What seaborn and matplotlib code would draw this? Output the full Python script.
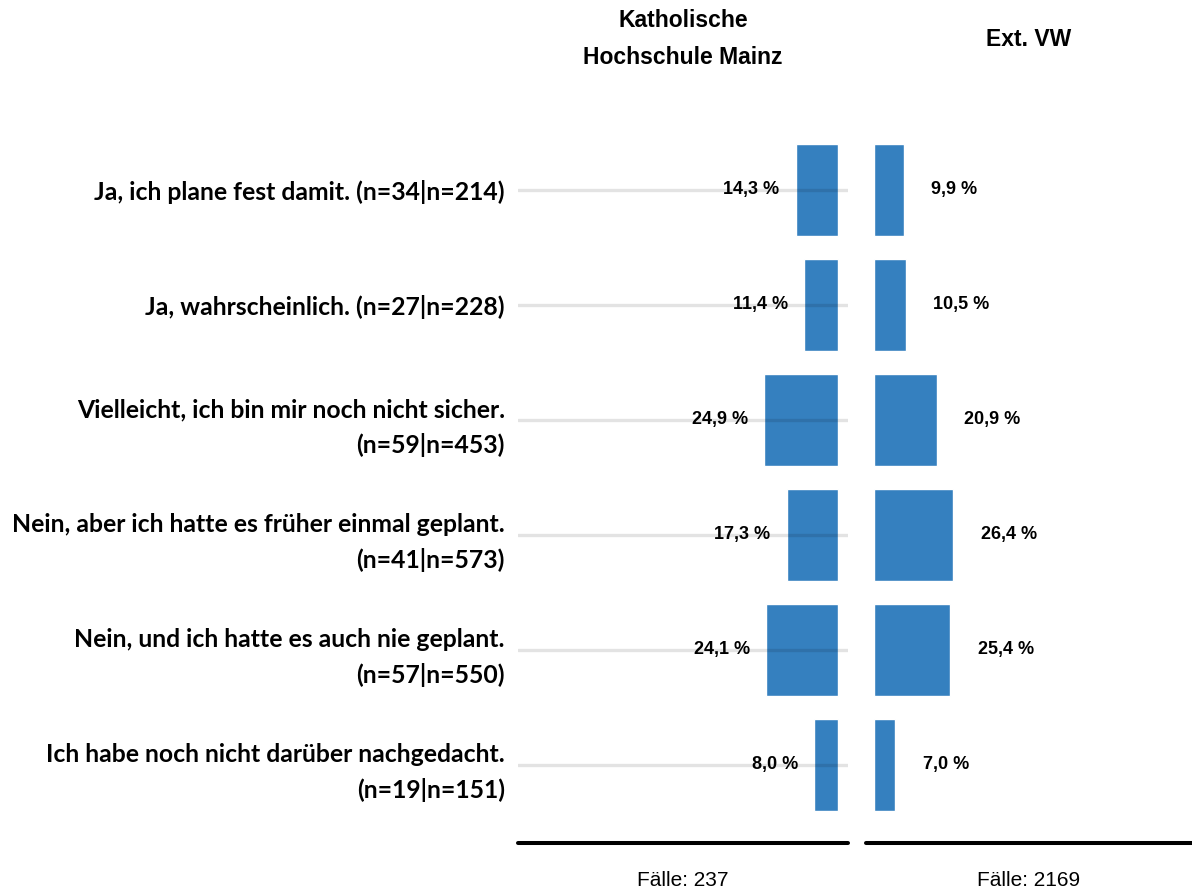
import matplotlib
matplotlib.use("Agg")
import matplotlib.pyplot as plt
import seaborn as sns
import pandas as pd

# ── Daten ──────────────────────────────────────────────────
categories = [
    "Ja, ich plane fest damit. (n=34|n=214)",
    "Ja, wahrscheinlich. (n=27|n=228)",
    "Vielleicht, ich bin mir noch nicht sicher.\n(n=59|n=453)",
    "Nein, aber ich hatte es früher einmal geplant.\n(n=41|n=573)",
    "Nein, und ich hatte es auch nie geplant.\n(n=57|n=550)",
    "Ich habe noch nicht darüber nachgedacht.\n(n=19|n=151)",
]
khm_values = [14.3, 11.4, 24.9, 17.3, 24.1, 8.0]
vw_values = [9.9, 10.5, 20.9, 26.4, 25.4, 7.0]
group_titles = ["Katholische\nHochschule Mainz", "Ext. VW"]
case_counts = [237, 2169]

BAR_COLOR = "#3580bf"

sns.set_theme(style="white")
plt.rcParams["font.family"] = ["Liberation Sans", "DejaVu Sans"]
plt.rcParams["text.color"] = "black"
plt.rcParams["ytick.color"] = "black"
plt.rcParams["xtick.color"] = "black"

fig = plt.figure(figsize=(11.92, 8.92), dpi=100)
W, H = 1192, 892
bottom = (H - 843) / H
height = (843 - 121) / H
ax_l = fig.add_axes([518 / W, bottom, 330 / W, height])
ax_r = fig.add_axes([866 / W, bottom, 326 / W, height])

df_l = pd.DataFrame({"cat": categories, "val": khm_values})
df_r = pd.DataFrame({"cat": categories, "val": vw_values})

sns.barplot(data=df_l, x="val", y="cat", ax=ax_l, color=BAR_COLOR,
            width=0.8, saturation=1)
sns.barplot(data=df_r, x="val", y="cat", ax=ax_r, color=BAR_COLOR,
            width=0.8, saturation=1)

# linkes Panel wächst nach links
ax_l.set_xlim(107.7, -3.37)
ax_r.set_xlim(-2.67, 106)

for ax, vals, side in [(ax_l, khm_values, "l"), (ax_r, vw_values, "r")]:
    ax.set_ylim(5.68, -0.6)
    ax.set_xlabel("")
    ax.set_ylabel("")
    ax.set_xticks([])
    ax.grid(axis="y", color="black", alpha=0.11, linewidth=2.4)
    ax.set_axisbelow(False)
    for s in ["top", "left", "right"]:
        ax.spines[s].set_visible(False)
    ax.spines["bottom"].set_color("black")
    ax.spines["bottom"].set_linewidth(2.9)
    ax.spines["bottom"].set_capstyle("round")
    for i, v in enumerate(vals):
        txt = f"{v:.1f} %".replace(".", ",")
        if side == "l":
            ax.annotate(txt, (v, i), xytext=(-11.5, 0), textcoords="offset points",
                        ha="right", va="center", fontsize=13, fontweight="bold")
        else:
            ax.annotate(txt, (v, i), xytext=(20, 0), textcoords="offset points",
                        ha="left", va="center", fontsize=13, fontweight="bold")

ax_l.tick_params(axis="y", length=0, pad=9.4)
for lab in ax_l.get_yticklabels():
    lab.set_fontfamily(["Lato", "DejaVu Sans"])
    lab.set_fontweight("bold")
    lab.set_fontsize(17.8)
    lab.set_linespacing(1.6)
    lab.set_ha("right")
ax_r.set_yticks([])

# Spaltenüberschriften und Fallzahlen
fig.text(683 / W, 1 - 39 / H, group_titles[0], ha="center", va="center",
         fontsize=16.5, fontweight="bold", linespacing=1.8)
fig.text(1029 / W, 1 - 39 / H, group_titles[1], ha="center", va="center",
         fontsize=16.5, fontweight="bold")
fig.text(683 / W, 1 - 880 / H, f"Fälle: {case_counts[0]}", ha="center", va="center",
         fontsize=15)
fig.text(1029 / W, 1 - 880 / H, f"Fälle: {case_counts[1]}", ha="center", va="center",
         fontsize=15)

fig.savefig("out.png", dpi=100)
